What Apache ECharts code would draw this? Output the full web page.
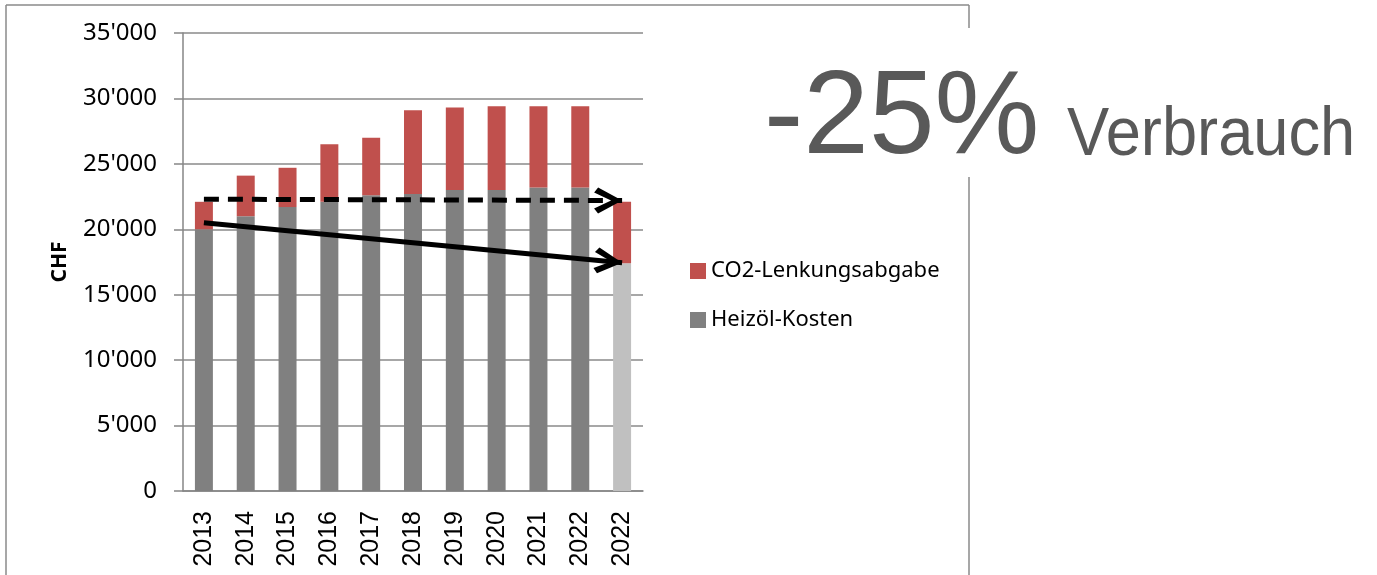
<!DOCTYPE html>
<html>
<head>
<meta charset="utf-8">
<script src="https://cdn.jsdelivr.net/npm/echarts@6/dist/echarts.min.js"></script>
<style>
  html, body { margin: 0; padding: 0; background: #fff; }
  #main { width: 1377px; height: 575px; }
</style>
</head>
<body>
<div id="main"></div>
<script>
// Jahre (die letzte Säule = 2022 mit 25% weniger Verbrauch)
var years = ["2013", "2014", "2015", "2016", "2017", "2018", "2019", "2020", "2021", "2022", "2022"];
// Heizöl-Kosten in CHF
var heizoel = [20000, 21000, 21700, 22100, 22600, 22700, 23000, 23000, 23200, 23200, 17400];
// CO2-Lenkungsabgabe in CHF
var co2 = [2100, 3100, 3000, 4400, 4400, 6400, 6300, 6400, 6200, 6200, 4700];
// Pfeile: [x-Index, CHF] Start und Ende
var arrowDashed = [[-0.12, 22300], [10, 22200]];
var arrowSolid = [[-0.12, 20500], [10.05, 17450]];

// offene Pfeilspitze
var chevron = "path://M13,0 L26,24 L21,28 L13,11 L5,28 L0,24 Z";

var myChart = echarts.init(document.getElementById("main"));

// letzte Säule heller
var heizoelData = heizoel.map(function (v, i) {
  if (i === heizoel.length - 1) {
    return { value: v, itemStyle: { color: "#c0c0c0" } };
  }
  return v;
});

function fmt(v) {
  if (v === 0) return "0";
  var s = String(v);
  return s.slice(0, s.length - 3) + "'" + s.slice(s.length - 3);
}

myChart.setOption({
  animation: false,
  grid: { left: 183, right: 734, top: 33, bottom: 84 },
  legend: {
    orient: "vertical",
    left: 685,
    top: 254,
    itemWidth: 16,
    itemHeight: 16,
    itemGap: 25,
    icon: "rect",
    data: ["CO2-Lenkungsabgabe", "Heizöl-Kosten"],
    textStyle: { fontFamily: "Noto Sans", fontSize: 22, color: "#000", lineHeight: 24 }
  },
  xAxis: {
    type: "category",
    data: years,
    axisLine: { lineStyle: { color: "#868686", width: 1.5 } },
    axisTick: { length: 9, lineStyle: { color: "#868686", width: 1.5 } },
    axisLabel: {
      rotate: 90,
      margin: 20,
      fontFamily: "Liberation Sans",
      fontSize: 25,
      color: "#000"
    }
  },
  yAxis: {
    type: "value",
    min: 0,
    max: 35000,
    interval: 5000,
    name: "CHF",
    nameLocation: "middle",
    nameGap: 112,
    nameTextStyle: { fontFamily: "Noto Sans", fontWeight: "bold", fontSize: 21, color: "#000" },
    axisLine: { show: true, lineStyle: { color: "#868686", width: 1.5 } },
    axisTick: { show: true, length: 9, lineStyle: { color: "#868686", width: 1.5 } },
    splitLine: { lineStyle: { color: "#8a8a8a", width: 1.5 } },
    axisLabel: {
      margin: 26,
      fontFamily: "Noto Sans",
      fontSize: 24,
      color: "#000",
      formatter: fmt
    }
  },
  series: [
    {
      name: "Heizöl-Kosten",
      type: "bar",
      stack: "total",
      barWidth: "43%",
      itemStyle: { color: "#808080" },
      data: heizoelData
    },
    {
      name: "CO2-Lenkungsabgabe",
      type: "bar",
      stack: "total",
      barWidth: "43%",
      itemStyle: { color: "#c0504d" },
      data: co2,
      markLine: {
        silent: true,
        symbol: ["none", chevron],
        symbolSize: [26, 28],
        symbolOffset: [0, [0, 14]],
        label: { show: false },
        data: [
          [
            { coord: arrowDashed[0], lineStyle: { type: [15, 9], width: 5, color: "#000" } },
            { coord: arrowDashed[1] }
          ],
          [
            { coord: arrowSolid[0], lineStyle: { type: "solid", width: 5, color: "#000" } },
            { coord: arrowSolid[1] }
          ]
        ]
      }
    }
  ],
  graphic: [
    // Rahmen
    { type: "line", shape: { x1: 6, y1: 5, x2: 969, y2: 5 }, style: { stroke: "#8a8a8a", lineWidth: 1.5 } },
    { type: "line", shape: { x1: 6, y1: 5, x2: 6, y2: 575 }, style: { stroke: "#8a8a8a", lineWidth: 1.5 } },
    { type: "line", shape: { x1: 969, y1: 5, x2: 969, y2: 575 }, style: { stroke: "#8a8a8a", lineWidth: 1.5 } },
    // Textfeld
    { type: "rect", shape: { x: 750, y: 28, width: 627, height: 149 }, style: { fill: "#fff" } },
    {
      type: "text",
      x: 764,
      y: 179,
      style: {
        text: "-25%",
        fontFamily: "Liberation Sans",
        fontSize: 118,
        fill: "#595959",
        verticalAlign: "bottom"
      }
    },
    {
      type: "text",
      x: 1067,
      y: 170,
      scaleX: 0.93,
      style: {
        text: "Verbrauch",
        fontFamily: "Liberation Sans",
        fontSize: 68,
        fill: "#595959",
        verticalAlign: "bottom"
      }
    }
  ]
});
</script>
</body>
</html>
